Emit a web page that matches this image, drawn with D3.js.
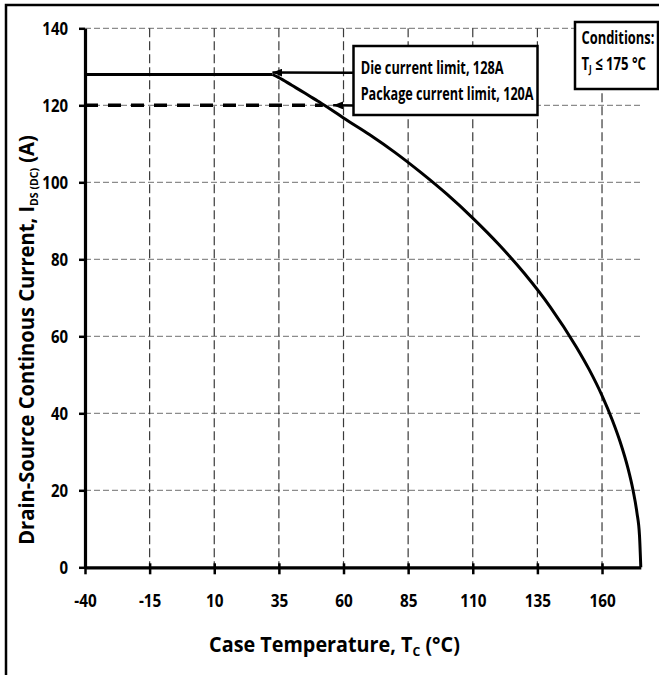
<!DOCTYPE html>
<html>
<head>
<meta charset="utf-8">
<script src="https://cdn.jsdelivr.net/npm/d3@7"></script>
<style>
  html, body { margin: 0; padding: 0; background: #fff; }
  svg { display: block; }
  text { font-family: "Open Sans", "Noto Sans", sans-serif; font-weight: 700; fill: #000; }
</style>
</head>
<body>
<svg id="chart" width="659" height="675"></svg>
<script>
// Maximum continuous drain current vs. case temperature
const tempC    = [-40, 32.5, 35, 40, 45, 50, 55, 60, 70, 80, 90, 100, 110, 120, 130, 140, 150, 155, 160, 164, 167, 170, 172, 173.5, 174.5, 175];
const currentA = [128, 128, 127.2, 125.2, 123.2, 121.1, 119.0, 116.7, 112.4, 107.7, 102.5, 96.9, 90.7, 83.9, 76.3, 67.6, 57.3, 51.4, 44.6, 38.2, 32.6, 25.8, 20.0, 14.2, 8.2, 0];
const kinkIndex = 1;            // end of the flat die-limited segment

const packageLimit = 120;        // A
const packageLimitEndT = 52;     // °C, where the package limit meets the curve
const dieArrowTarget = [32.5, 128.5];
const packageArrowTarget = [56, 120];

const xTicks = [-40, -15, 10, 35, 60, 85, 110, 135, 160];
const xTickLabels = ["-40", "-15", "10", "35", "60", "85", "110", "135", "160"];
const yTicks = [0, 20, 40, 60, 80, 100, 120, 140];
const xDomain = [-40, 175];
const yDomain = [0, 140];

const annotationLines = ["Die current limit, 128A", "Package current limit, 120A"];

const svg = d3.select("#chart");

const plot = { left: 85, top: 28.3, right: 640.8, bottom: 567.3 };
const x = d3.scaleLinear().domain(xDomain).range([plot.left, plot.right]);
const y = d3.scaleLinear().domain(yDomain).range([plot.bottom, plot.top]);

// squeeze a text element horizontally to a given width around its anchor
function fitWidth(node, width) {
  const len = node.getComputedTextLength();
  const s = width / len;
  const tx = +node.getAttribute("x") || 0, ty = +node.getAttribute("y") || 0;
  node.setAttribute("transform", `translate(${tx},${ty}) scale(${s},1) translate(${-tx},${-ty})`);
}

// outer frame
svg.append("rect")
  .attr("x", 6).attr("y", 5).attr("width", 720).attr("height", 720)
  .attr("fill", "none").attr("stroke", "#000").attr("stroke-width", 2.5);

// grid
svg.append("g").selectAll("line")
  .data(yTicks.filter(d => d > 0))
  .join("line")
  .attr("x1", x(xDomain[0])).attr("x2", x(xDomain[1]))
  .attr("y1", d => y(d)).attr("y2", d => y(d))
  .attr("stroke", "#8c8c8c").attr("stroke-width", 1.3)
  .attr("stroke-dasharray", "6,3");

svg.append("g").selectAll("line")
  .data(xTicks.filter(d => d > xDomain[0]))
  .join("line")
  .attr("x1", d => x(d)).attr("x2", d => x(d))
  .attr("y1", y(yDomain[1])).attr("y2", y(0))
  .attr("stroke", "#3a3a3a").attr("stroke-width", 1.2)
  .attr("stroke-dasharray", "9,4");

// axes
const xAxis = svg.append("g")
  .attr("transform", `translate(0,${y(0)})`)
  .call(d3.axisBottom(x).tickValues(xTicks).tickFormat((d, i) => xTickLabels[i])
    .tickSize(7).tickSizeOuter(0).tickPadding(21));
xAxis.select(".domain").attr("stroke", "#000").attr("stroke-width", 3.2);
xAxis.selectAll(".tick line").attr("y1", -4).attr("stroke", "#000").attr("stroke-width", 2.5);
xAxis.selectAll(".tick text").attr("font-size", 17).attr("font-family", null)
  .each(function () { fitWidth(this, this.getComputedTextLength() * 0.9); });

const yAxis = svg.append("g")
  .attr("transform", `translate(${x(xDomain[0])},0)`)
  .call(d3.axisLeft(y).tickValues(yTicks).tickSize(6).tickSizeOuter(0).tickPadding(11));
yAxis.select(".domain").attr("stroke", "#000").attr("stroke-width", 3.2);
yAxis.selectAll(".tick line").attr("stroke", "#000").attr("stroke-width", 2.5);
yAxis.selectAll(".tick text").attr("font-size", 17).attr("font-family", null).attr("dy", "0.36em")
  .each(function () {
    const len = this.getComputedTextLength();
    const tx = +this.getAttribute("x");
    this.setAttribute("transform", `translate(${tx},0) scale(0.88,1) translate(${-tx},0)`);
  });

// package current limit
svg.append("line")
  .attr("x1", x(xDomain[0])).attr("x2", x(packageLimitEndT))
  .attr("y1", y(packageLimit)).attr("y2", y(packageLimit))
  .attr("stroke", "#000").attr("stroke-width", 3.4)
  .attr("stroke-dasharray", "13,10");

// current curve: flat die limit, then thermal derating
const pts = tempC.map((t, i) => [t, currentA[i]]);
const lin = d3.line().x(d => x(d[0])).y(d => y(d[1]));
const smooth = d3.line().x(d => x(d[0])).y(d => y(d[1])).curve(d3.curveMonotoneX);
svg.append("path").attr("d", lin(pts.slice(0, kinkIndex + 1)))
  .attr("fill", "none").attr("stroke", "#000").attr("stroke-width", 3);
svg.append("path").attr("d", smooth(pts.slice(kinkIndex)))
  .attr("fill", "none").attr("stroke", "#000").attr("stroke-width", 3)
  .attr("stroke-linejoin", "round");

// arrows
const defs = svg.append("defs");
defs.append("marker")
  .attr("id", "head").attr("viewBox", "0 0 10 8")
  .attr("refX", 10).attr("refY", 4)
  .attr("markerWidth", 10).attr("markerHeight", 8)
  .attr("markerUnits", "userSpaceOnUse").attr("orient", "auto")
  .append("path").attr("d", "M0,0 L10,4 L0,8 Z").attr("fill", "#000");

const box = { x: 353.5, y: 46, w: 184, h: 69 };
[[dieArrowTarget, 72.7], [packageArrowTarget, 105.5]].forEach(([tgt, yy]) => {
  svg.append("line")
    .attr("x1", box.x).attr("y1", yy)
    .attr("x2", x(tgt[0])).attr("y2", y(tgt[1]))
    .attr("stroke", "#000").attr("stroke-width", 2.5)
    .attr("marker-end", "url(#head)");
});

// annotation box
svg.append("rect")
  .attr("x", box.x).attr("y", box.y).attr("width", box.w).attr("height", box.h)
  .attr("fill", "#fff").attr("stroke", "#000").attr("stroke-width", 2.5);
const annWidths = [143, 173];
const annBase = [74, 100];
annotationLines.forEach((s, i) => {
  const t = svg.append("text")
    .attr("x", 360.7).attr("y", annBase[i]).attr("font-size", 18.5).text(s);
  fitWidth(t.node(), annWidths[i]);
});

// conditions box
svg.append("rect")
  .attr("x", 575).attr("y", 22).attr("width", 83).attr("height", 67)
  .attr("fill", "#fff").attr("stroke", "#000").attr("stroke-width", 2.5);
const c1 = svg.append("text").attr("x", 581.5).attr("y", 44.5).attr("font-size", 18).text("Conditions:");
fitWidth(c1.node(), 73);
const c2 = svg.append("text").attr("x", 581.5).attr("y", 70.5).attr("font-size", 18);
c2.append("tspan").text("T");
c2.append("tspan").attr("font-size", 11).attr("dy", 3).text("J");
c2.append("tspan").attr("dy", -3).text(" ≤ 175 °C");
fitWidth(c2.node(), 64.5);

// axis titles
const xt = svg.append("text")
  .attr("x", 334.5).attr("y", 652.5).attr("text-anchor", "middle").attr("font-size", 21);
xt.append("tspan").text("Case Temperature, T");
xt.append("tspan").attr("font-size", 13).attr("dy", 4).text("C");
xt.append("tspan").attr("dy", -4).text(" (°C)");
fitWidth(xt.node(), 251);

const ytG = svg.append("g").attr("transform", "translate(34,340) rotate(-90)");
const yt = ytG.append("text")
  .attr("x", 0).attr("y", 0).attr("text-anchor", "middle").attr("font-size", 21);
yt.append("tspan").text("Drain-Source Continous Current, I");
yt.append("tspan").attr("font-size", 11).attr("dy", 4).text("DS (DC)");
yt.append("tspan").attr("dy", -4).text(" (A)");
fitWidth(yt.node(), 410);
</script>
</body>
</html>
